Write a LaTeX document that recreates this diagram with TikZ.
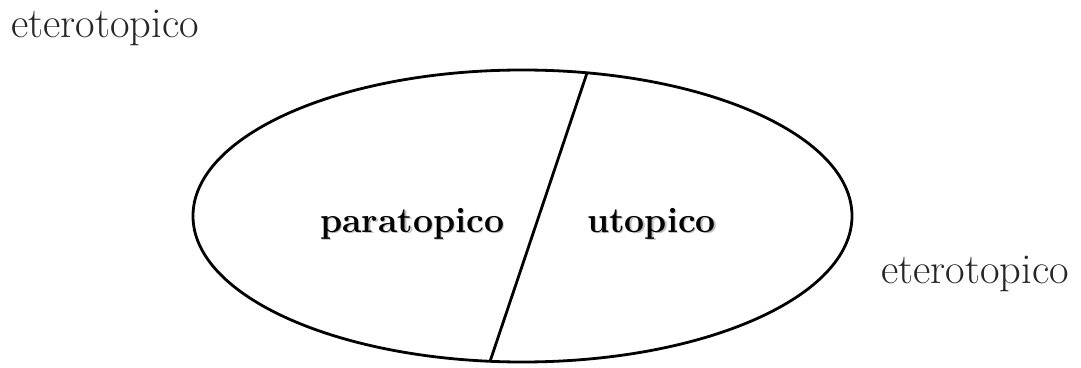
\documentclass[tikz,border=0pt]{standalone}
\begin{document}
\begin{tikzpicture}[x=1pt,y=1pt,
  lbl/.style={inner sep=0pt, anchor=base west, font=\fontsize{42.5}{44}\selectfont, text=black!85},
  blbl/.style={inner sep=0pt, anchor=base west, font=\fontsize{35.5}{38}\selectfont\bfseries},
  shadowlbl/.style={blbl, text=black!25},
  outline/.style={line width=2.8pt, black}]
\useasboundingbox (0,0) rectangle (1081,367);
% ellipse
\draw[outline] (522.5,151) ellipse [x radius=329.5, y radius=146];
\coordinate (top) at (587,294);
\coordinate (bot) at (490,5.5);
\draw[outline] (top) -- (bot);
% labels
\node[lbl] (h1) at (11,329) {eterotopico};
\node[lbl] (h2) at (881,84) {eterotopico};
\node[shadowlbl] (ps) at (321.5,133) {paratopico};
\node[shadowlbl] (us) at (588.5,133) {utopico};
\node[blbl] (p) at (320,135) {paratopico};
\node[blbl] (u) at (587,135) {utopico};
\end{tikzpicture}
\end{document}
